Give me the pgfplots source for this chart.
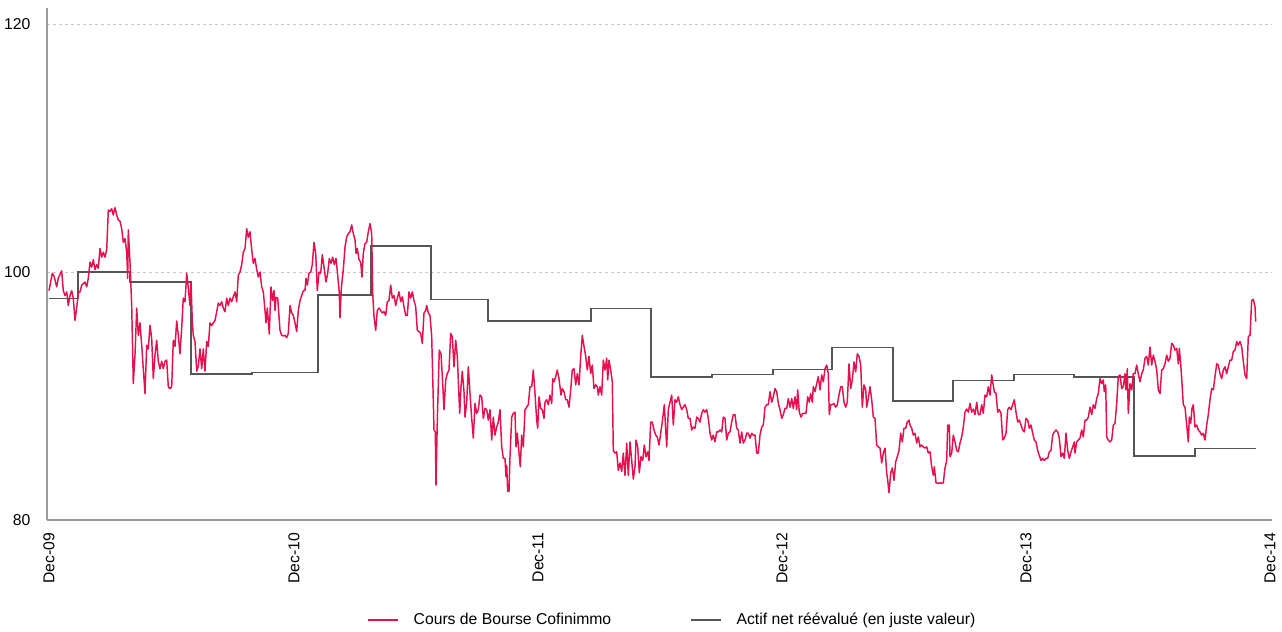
\documentclass[border=0pt]{standalone}
\usepackage{pgfplots}
\pgfplotsset{compat=1.18}
\usepackage{fontspec}
\setmainfont{Liberation Sans}
\definecolor{cofired}{HTML}{E5114F}
\definecolor{navgray}{HTML}{555555}
\definecolor{axgray}{HTML}{9A9A9A}
\definecolor{gridgray}{HTML}{C8C8C8}
\begin{document}
\begin{tikzpicture}
\useasboundingbox (-35.25pt,-84pt) rectangle (926.25pt,390pt);
\begin{axis}[
  scale only axis,
  width=918.75pt, height=384pt,
  xmin=0, xmax=1225, ymin=80, ymax=121.3,
  axis x line*=bottom, axis y line*=left,
  axis line style={draw=axgray, line width=1pt, -},
  xtick={2,247,491,735,979,1223},
  xticklabels={Dec-09,Dec-10,Dec-11,Dec-12,Dec-13,Dec-14},
  ytick={80,100,120},
  major tick length=0pt,
  ymajorgrids,
  grid style={gridgray, line width=0.75pt, dash pattern=on 2.25pt off 2.25pt},
  tick label style={font=\fontsize{11.8}{13}\selectfont, text=black},
  /pgf/number format/assume math mode=true,
  xticklabel style={rotate=90, anchor=east},
  xticklabel shift=6pt,
  yticklabel shift=9pt,
  legend style={at={(0.5106,-0.195)}, anchor=center, draw=none, fill=none,
    font=\fontsize{11.8}{13}\selectfont, legend columns=2,
    /tikz/every odd column/.append style={column sep=9pt},
    /tikz/every even column/.append style={column sep=57pt}},
  legend cell align=left,
  legend image code/.code={\draw[#1, line width=2pt] (0pt,0pt) -- (22pt,0pt);},
]
\addplot[const plot, navgray, line width=1.1pt, forget plot] table {
x y
2 97.87
31 100.0
83 99.2
144 91.77
205 91.9
271 98.15
324 102.1
384 97.8
441 96.05
544 97.07
604 91.53
665 91.75
726 92.12
785 93.9
846 89.6
906 91.27
967 91.75
1027 91.53
1087 85.16
1148 85.75
1209 85.75
};
\addplot[cofired, line width=1.1pt, line join=round] table {
x y
2 98.5
5.3 99.9
7.3 99.6
9.7 98.8
11.3 99.5
14.7 100.1
16.3 98.5
18 98.1
19.7 98.4
21.3 97.3
23 98.1
24.7 98.5
26.3 97.9
28 96.1
29.7 97.1
31.3 98.3
33 98.4
34.7 98.95
38 99.2
39.7 98.8
41.3 99.5
43 100.8
44.7 100.4
46.3 101.0
48 100.2
49.7 100.6
51.3 100.3
53 101.9
54.7 101.2
56.3 101.6
58 101.2
59.7 101.8
61.3 105.0
63 104.9
64.7 105.1
66.3 104.6
68 105.2
69.7 104.6
71.3 104.2
73 104.1
74.7 103.5
76.3 102.4
78 102.7
79.7 101.6
80.7 99.5
81.3 103.4
83 100.8
84.7 97.3
86.3 91.0
88 93.3
89.7 97.1
91.3 94.9
93 95.9
94.7 94.1
96.3 92.2
98 90.2
99.7 94.1
101.3 93.8
103 95.7
104.7 94.65
106.3 91.4
108 93.3
109.7 94.5
111.3 92.8
113 92.2
114.7 92.8
116.3 92.2
118 92.8
119.7 92.9
121.3 90.75
123 90.6
124.7 90.75
126.3 94.5
128 94.0
129.7 96.05
131.3 94.9
133 93.4
134.7 95.5
136.3 97.9
138 97.6
139.7 99.9
141.3 98.7
143 97.3
144 99.2
145.3 96.0
146.3 94.9
148 94.4
149.7 92.0
151.3 92.4
153 93.8
154.7 92.2
156.3 93.8
158 92.0
159.7 94.4
161.3 94.0
163 95.9
164.7 95.7
168 96.1
169.7 96.8
171.3 97.5
173 97.3
174.7 97.6
176.3 97.1
178 96.8
179.7 97.9
181.3 97.3
183 97.9
184.7 97.6
186.3 98.0
188 98.4
189.7 97.6
191.3 99.75
193 100.0
194.7 100.6
196.3 101.6
198 101.9
199.7 103.5
201.3 102.8
203 103.25
204.7 101.8
206.3 100.7
208 101.1
209.7 100.2
211.3 99.6
213 100.0
214.7 98.8
216.3 98.4
218 96.9
219 95.9
220.3 97.1
222.3 95.0
224 98.8
225.7 97.7
227 98.5
228 96.9
229 97.96
230.7 97.9
233 95.3
234.7 94.9
236.3 94.85
238 94.9
239.7 94.7
241.3 95.05
243 97.3
244.7 96.7
246.3 96.5
248 95.9
249.7 95.2
251.3 96.9
253 97.7
254.7 98.1
256.3 98.5
258 98.5
259 99.5
260.3 98.95
262 99.9
263.7 100.0
265.3 100.6
267 102.4
268.7 101.5
270.3 98.5
272 100.0
273.7 99.9
275.3 101.4
277 100.4
279 99.2
280.7 99.9
282.3 101.1
284 100.7
285.7 101.2
287.3 100.6
289 101.1
290.7 99.75
292.3 98.3
293 96.3
294.3 98.7
296.3 100.2
298 102.0
299.7 102.85
301.3 103.1
303 103.25
304.7 103.8
306.3 103.1
308 102.6
309 101.5
310.3 101.9
312 101.0
313.7 100.8
315 99.6
316.3 101.5
318 102.3
319.7 102.4
321.3 103.25
323 103.9
324.7 103.1
325.7 98.3
327 96.4
328.7 95.3
330.3 96.9
332 97.1
333.7 96.9
335.3 96.7
337 96.8
338.7 96.5
340.3 97.6
342 97.7
343.7 98.95
345.3 97.9
347 98.1
348.7 97.3
350.3 97.9
352 98.4
353.7 97.6
355.3 98.0
357 97.2
358.7 96.5
360.3 96.5
362 98.4
363.7 97.9
365.3 98.4
367 97.7
368.7 97.2
370.3 95.3
372 95.2
373.7 95.05
375.3 94.25
377 96.7
378.7 96.9
379.7 97.3
381.3 96.7
383 96.5
384.7 94.8
385.7 91.56
387 87.26
388.3 87.1
389 82.8
390.3 88.06
392.3 93.7
394 93.4
395.7 91.0
397 88.9
398.7 91.3
400.3 91.8
402 92.1
403.7 95.05
405.3 94.8
407 92.36
408.7 94.5
410.3 93.2
412.7 88.6
414 90.75
415.3 92.0
417 90.35
418 88.3
419.7 89.5
421.3 92.36
423 90.2
424.7 88.2
426.3 86.6
428 89.4
429.7 88.6
431.3 88.9
433 90.08
434.7 89.94
436.3 88.2
438 89.0
439.7 88.9
441.3 88.06
443 88.9
444.7 86.45
446.3 88.3
448 86.85
449.7 87.5
451.3 87.9
453 88.9
454.7 85.9
456.3 84.97
458 84.97
459 83.5
459.7 84.4
460.7 82.3
462 82.3
463 85.1
464.7 88.3
466.3 88.6
468 88.7
469 85.9
470.3 87.0
472 85.4
473.3 84.3
474.7 86.85
476.3 85.9
478 88.9
479.7 89.1
481.3 89.3
483 90.75
484.7 90.75
486.3 92.1
488 90.2
489.7 88.06
490.7 87.4
492 89.94
493.7 89.0
495.3 88.9
497 88.2
498 89.5
499.7 89.7
501.3 89.3
503 90.08
504.7 89.4
505.7 91.4
507 91.15
508.7 91.56
510.3 92.1
512 91.4
514 90.08
515.3 90.6
517 90.35
518.7 89.7
520.3 89.7
522 89.1
523.7 90.5
525.3 92.1
527 92.2
528.7 90.9
530.3 91.8
532 90.9
533.7 93.2
535.3 94.9
537 94.0
538.7 93.2
540.3 92.1
542 93.2
543.7 91.8
545.3 92.5
547 90.6
548.7 90.9
550.3 90.75
551.3 90.08
553 90.75
554.7 90.08
556.3 92.9
558 92.1
559.7 93.05
560.7 91.3
562 92.9
563.7 92.1
565.3 91.15
566.3 85.6
568 85.4
569.7 85.5
571.3 84.0
573 84.6
574.7 83.9
576.3 85.4
578 83.6
579.7 86.2
581.3 83.6
583 86.3
584.7 84.8
586.3 83.3
588 84.3
589 86.45
590.7 85.9
592.3 83.8
594 85.1
595.7 84.8
597.3 86.05
599 85.1
600.7 85.5
602 84.8
603.7 87.9
605.3 87.9
607 87.26
608.7 86.85
610.3 86.7
612 86.05
613.7 87.0
615.3 87.9
617.3 89.3
619.7 85.9
621.3 88.9
623 89.5
624.7 90.08
626.3 87.66
628 89.7
629.7 89.5
631.3 89.94
633 89.3
634.7 88.9
636.3 89.1
638 89.3
639.7 88.9
641.3 88.2
643 88.2
644.7 87.26
646.3 87.5
648 87.4
649.7 88.3
651.3 88.2
653 87.9
654.7 88.6
656.3 88.9
658 88.7
659.7 88.9
661.3 88.2
663 87.0
664.7 86.45
666.3 86.85
668 86.3
669.7 87.1
671.3 87.1
673 87.26
674.7 87.1
676.3 88.3
678 88.2
679.7 86.45
681.3 87.0
683 87.1
684.7 87.9
686.3 88.5
688 88.5
689.7 87.4
691.3 87.26
693 86.2
694.7 87.1
696.3 86.2
698 86.45
699.7 87.0
701.3 87.0
703 86.6
704.7 87.0
706.3 86.85
708 86.85
709.7 85.4
711.3 85.4
713 86.85
714.7 87.5
716.3 87.66
718 89.1
719.7 89.3
721.3 89.3
723 90.35
724.7 89.5
726.3 89.94
728 90.6
729.7 90.35
731.3 89.4
733 88.9
734.7 88.2
736.3 88.5
738 89.0
739.7 89.0
741.3 89.8
743 89.1
744.7 89.8
746.3 89.0
748 89.94
749.7 88.9
750.7 90.5
752.3 88.7
754 88.3
755.7 88.6
757.3 88.6
759 88.6
760.7 89.94
762.3 89.5
763.7 90.2
765.3 89.5
766.3 90.75
768 90.35
769.7 91.0
771.3 91.56
773 90.5
774.7 91.7
776.3 91.15
778 92.2
779.7 92.5
781.3 91.8
782.3 88.5
783.7 89.3
785.3 89.3
787 89.4
788.7 89.1
790.3 89.3
792 90.08
793.7 90.75
795.3 90.75
797 89.5
798.7 89.1
800.3 89.5
802 92.6
803.7 90.6
805.3 91.3
807 92.76
808.7 91.95
810.3 93.4
812 93.2
813.7 92.5
815.3 89.1
817 90.9
818.7 90.5
819.7 89.1
821.3 89.8
823 90.75
824.7 89.7
826.3 88.3
828 88.2
829.7 86.05
831.3 85.9
833 85.8
834.7 84.6
836.3 85.4
838 85.8
839.7 83.8
840.7 83.2
842 82.2
843.7 83.8
845.3 84.2
847 83.2
848.7 84.7
850.3 85.1
852 85.6
853.7 87.0
855.3 86.3
857 87.4
858.7 87.4
860.3 87.9
862 88.06
863 87.66
864.7 87.4
866.3 86.85
868 87.0
869.7 86.2
871.3 86.7
873 85.9
874.7 86.05
876.3 85.9
878 85.8
879.7 85.9
881.3 85.4
883 85.5
884.7 84.3
886.3 83.6
887.3 84.3
889 83.0
891.3 82.96
893 83.0
894.7 82.96
896.3 83.0
898 84.2
899.7 84.8
900.7 87.66
902.3 87.66
903 85.1
904.7 85.4
906.3 86.85
908 86.3
909.7 85.6
911.3 85.5
913 86.2
914.7 86.7
916.3 87.5
918 88.7
919.7 88.95
921.3 88.7
923 89.4
924.7 88.7
926.3 88.95
928 88.5
929.7 89.5
931.3 88.5
933 88.5
934.7 89.3
936.3 88.6
938 90.08
939.7 89.94
941.3 90.75
943 90.08
944.7 91.7
945.7 91.15
947.3 90.35
949 90.2
950.7 88.7
952.3 88.9
954 88.6
955.7 86.45
957.3 86.6
959 87.0
960.7 88.9
962.3 89.1
964 88.9
965.7 89.3
967.3 89.7
969 88.7
970.7 87.9
972.3 88.06
974 87.66
975.7 87.26
977.3 87.1
979 88.2
980.7 88.06
982.3 87.4
984 87.66
985.7 87.0
987.3 86.45
989 86.3
990.7 85.6
992.3 85.2
994 84.8
995.7 84.97
997.3 84.8
999 84.97
1000.7 84.97
1002.3 85.5
1004 85.6
1005.7 86.85
1007.3 87.1
1009 87.26
1010.7 87.1
1012.3 86.6
1014 85.1
1015.7 85.4
1017.3 84.97
1019 87.0
1020.7 85.6
1022.3 84.97
1024 85.5
1025.7 85.9
1027.3 86.3
1028 85.4
1029.7 86.3
1031.3 86.45
1033 86.6
1034.7 87.26
1036.3 86.7
1038 88.06
1039.7 88.06
1041.3 88.3
1043 89.1
1044.7 88.5
1046.3 89.3
1048 89.0
1049.7 89.8
1051.3 90.2
1053 91.4
1054.7 91.0
1056.3 91.3
1057.3 90.35
1058.7 90.9
1059.7 86.7
1061.3 86.45
1063 86.3
1064.7 86.45
1066.3 87.66
1068 87.8
1069.7 89.4
1071.3 91.56
1073 91.7
1074.7 90.6
1076.3 90.75
1078 91.8
1079 90.5
1080.3 92.2
1081.3 88.6
1083 91.0
1084.7 90.5
1086.3 91.8
1088 91.8
1089.7 92.5
1091.3 91.8
1093 91.15
1094.7 91.8
1096.3 92.1
1098 93.05
1099.7 93.2
1101.3 92.5
1103 93.95
1104.7 92.5
1106.3 93.3
1108 92.8
1109.7 92.1
1111.3 90.5
1113 90.2
1114.7 92.1
1116.3 92.2
1118 92.6
1119.7 93.3
1121.3 92.8
1123 93.05
1124.7 94.25
1126.3 94.1
1128 93.7
1129.7 93.85
1131.3 92.6
1132.3 93.85
1133.7 92.6
1135 91.0
1136.3 89.3
1138 89.1
1139.7 87.66
1141.3 86.3
1142.3 88.3
1143.7 87.8
1145 89.0
1146.3 89.3
1148 87.5
1149.7 87.66
1151.3 87.26
1153 87.1
1154.7 86.85
1156.3 87.0
1158 86.45
1159.7 87.66
1161.3 88.5
1163 89.7
1164.7 90.6
1166.3 90.5
1168 91.56
1169.7 92.6
1171.3 92.5
1173 91.8
1174.7 91.4
1176.3 92.1
1178 92.36
1179.7 91.8
1181.3 92.36
1183 92.9
1184.7 92.9
1186.3 93.6
1188 93.7
1189.7 94.4
1191.3 94.1
1193 94.4
1194.7 93.97
1196.3 92.8
1198 91.7
1199.7 91.4
1201.3 94.8
1203 94.9
1204.7 97.7
1206.3 97.8
1208 97.2
1208.7 96.0
};
\addlegendentry{Cours de Bourse Cofinimmo}
\addlegendimage{navgray, line width=1.1pt}
\addlegendentry{Actif net réévalué (en juste valeur)}
\end{axis}
\end{tikzpicture}
\end{document}
